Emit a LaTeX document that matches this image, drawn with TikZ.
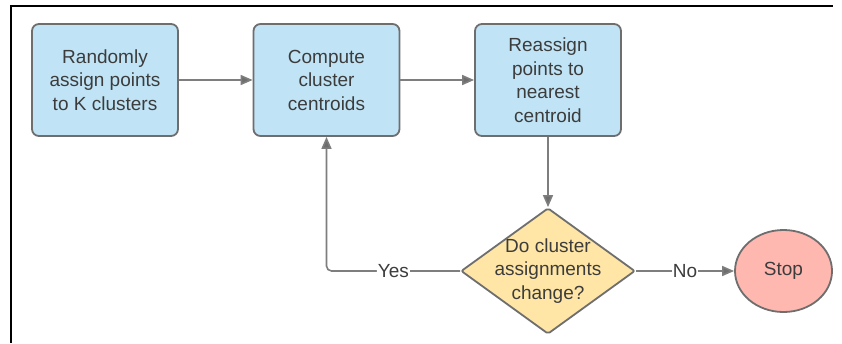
\documentclass[tikz,border=0pt]{standalone}
\usepackage{fontspec}
\setmainfont{Liberation Sans}
\usetikzlibrary{shapes.geometric,arrows.meta}

\definecolor{boxblue}{HTML}{C0E4F6}
\definecolor{decyellow}{HTML}{FFE6A6}
\definecolor{stopred}{HTML}{FFB8B0}
\definecolor{edgegray}{HTML}{6E6E6E}
\definecolor{linkgray}{HTML}{7E7E7E}
\definecolor{textgray}{HTML}{3C3C3C}

\tikzset{
  chart/.style={font=\fontsize{19}{23.5}\selectfont, text=textgray, align=center},
  stepbox/.style={chart, draw=edgegray, line width=1.8pt, fill=boxblue,
    rounded corners=7pt, minimum width=146pt, minimum height=112pt, inner sep=0pt},
  decision/.style={draw=edgegray, line width=1.8pt, fill=decyellow, diamond,
    minimum width=174pt, minimum height=126pt, inner sep=0pt, rounded corners=2pt},
  terminal/.style={chart, draw=edgegray, line width=1.8pt, fill=stopred, ellipse,
    minimum width=97pt, minimum height=82pt, inner sep=0pt},
  link/.style={draw=linkgray, line width=1.6pt,
    -{Triangle[length=12pt,width=10pt,fill=edgegray]}},
  linklabel/.style={chart, fill=white, inner sep=1pt}
}

\begin{document}
\begin{tikzpicture}[x=1pt,y=-1pt]
  \useasboundingbox (0,0) rectangle (842,343);
  \fill[white] (0,0) rectangle (842,343);

  % frame edges
  \draw[line width=2pt, black] (11,343) -- (11,6) -- (833,6);

  % process steps
  \node[stepbox] (assign) at (105,80) {Randomly\\assign points\\to K clusters};
  \node[stepbox] (compute) at (326.5,80) {Compute\\cluster\\centroids};
  \node[stepbox] (reassign) at (548,80) {Reassign\\points to\\nearest\\centroid};

  % decision and end
  \node[decision] (check) at (548,271) {};
  \node[chart] (checktext) at (check.center) {Do cluster\\assignments\\change?};
  \node[terminal] (stop) at (783.5,271) {Stop};

  % connectors
  \draw[link] (assign) -- (compute);
  \draw[link] (compute) -- (reassign);
  \draw[link] (reassign) -- (check);
  \draw[link] (check.east) -- node[linklabel] {No} (stop.west);
  \draw[link, rounded corners=5pt] (check.west) -- node[linklabel] {Yes}
    (compute.south |- check.west) -- (compute.south);
\end{tikzpicture}
\end{document}
